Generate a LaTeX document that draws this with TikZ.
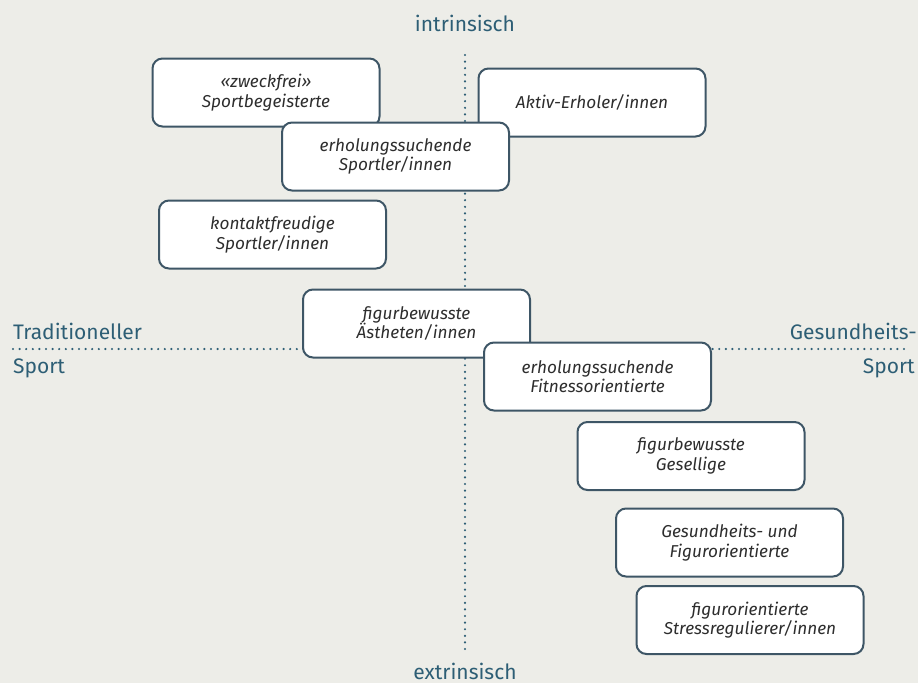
\documentclass[tikz,border=0pt]{standalone}
\usepackage{fontspec}
\setmainfont{Fira Sans}
\usepackage{tikz}
\usetikzlibrary{positioning}
\definecolor{paper}{RGB}{237,237,232}
\definecolor{axis}{RGB}{45,94,117}
\definecolor{frame}{RGB}{62,86,102}
\definecolor{ink}{RGB}{45,45,45}
\tikzset{
    segment/.style={rectangle, rounded corners=10pt, draw=frame, line width=2pt, fill=white, minimum width=227pt, minimum height=68pt, text centered, align=center, text=ink, font=\fontsize{17.2}{19.5}\selectfont\itshape},
    axislabel/.style={text=axis, inner sep=0pt, font=\fontsize{21}{24}\selectfont},
    dots/.style={draw=axis, line width=2.4pt, line cap=round, dash pattern=on 0pt off 6.6pt}
}

\begin{document}
\begin{tikzpicture}[x=1pt, y=-1pt]
    % Background
    \fill[paper] (0,0) rectangle (918,683);
    \useasboundingbox (0,0) rectangle (918,683);

    % Axis labels
    \node[axislabel, anchor=base] (intr) at (465,31) {intrinsisch};
    \node[axislabel, anchor=base] (extr) at (465,679) {extrinsisch};
    \node[axislabel, anchor=base west] (trad) at (13,339) {Traditioneller};
    \node[axislabel, anchor=base west] (tradsport) at (13,373) {Sport};
    \node[axislabel, anchor=base east] (health) at (917,339) {Gesundheits-};
    \node[axislabel, anchor=base east] (healthsport) at (915,373) {Sport};

    % Dotted axes
    \coordinate (top) at (465,55);
    \coordinate (bottom) at (465,650);
    \coordinate (left) at (13,349);
    \coordinate (right) at (905,349);
    \draw[dots] (top) -- (bottom);
    \draw[dots] (left) -- (right);

    % Upper half
    \node[segment] (zweck) at (266,92.5) {«zweckfrei»\\Sportbegeisterte};
    \node[segment] (aktiv) at (592,102.5) {Aktiv-Erholer/innen};
    \node[segment] (erhsport) at (395.5,156.5) {erholungssuchende\\Sportler/innen};
    \node[segment] (kontakt) at (272.5,234.5) {kontaktfreudige\\Sportler/innen};
    \node[segment] (aesth) at (416.5,323.5) {figurbewusste\\Ästheten/innen};

    % Lower half
    \node[segment] (erhfit) at (597.5,376.5) {erholungssuchende\\Fitnessorientierte};
    \node[segment] (gesellig) at (691,456) {figurbewusste\\Gesellige};
    \node[segment] (gesfig) at (729.5,542.5) {Gesundheits- und\\Figurorientierte};
    \node[segment] (stress) at (750,620) {figurorientierte\\Stressregulierer/innen};
\end{tikzpicture}
\end{document}
